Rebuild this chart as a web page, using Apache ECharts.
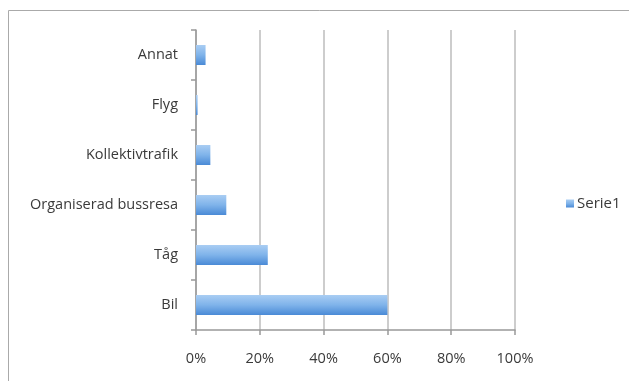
<!DOCTYPE html>
<html>
<head>
<meta charset="utf-8">
<script src="https://cdn.jsdelivr.net/npm/echarts@6/dist/echarts.min.js"></script>
<style>
    html, body { margin: 0; padding: 0; background: #fff; }
    #chart { width: 629px; height: 381px; }
</style>
</head>
<body>
<div id="chart"></div>
<script>
    // kategorier nerifrån och upp
    let categories = ['Bil', 'Tåg', 'Organiserad bussresa', 'Kollektivtrafik', 'Flyg', 'Annat'];
    let serie1 = [60, 22.5, 9.5, 4.5, 0.5, 3];
    let xTicks = [0, 20, 40, 60, 80, 100];

    let myChart = echarts.init(document.getElementById('chart'));

    let barColor = new echarts.graphic.LinearGradient(0, 0, 0, 1, [
        {offset: 0, color: '#a9cdf3'},
        {offset: 0.5, color: '#7fb3ea'},
        {offset: 1, color: '#4a8ad6'}
    ]);

    let option = {
        backgroundColor: '#fff',
        animation: false,
        textStyle: {
            fontFamily: 'Open Sans',
            fontSize: 14.5,
            color: '#3a3a3a'
        },
        graphic: [{
            type: 'rect',
            shape: {x: 8.5, y: 10.5, width: 700, height: 500},
            style: {fill: 'none', stroke: '#aaaaaa', lineWidth: 1},
            silent: true
        }],
        grid: {
            left: 196,
            top: 30,
            width: 319,
            height: 300
        },
        legend: {
            left: 561,
            top: 191,
            itemWidth: 8,
            itemHeight: 8,
            itemGap: 3,
            icon: 'rect',
            textStyle: {fontSize: 15, color: '#3a3a3a', fontFamily: 'Open Sans', padding: [0, 0, 0, -2]},
            data: ['Serie1']
        },
        xAxis: {
            type: 'value',
            min: xTicks[0],
            max: xTicks[xTicks.length - 1],
            interval: 20,
            axisLine: {show: true, lineStyle: {color: '#999', width: 1.5}},
            axisTick: {show: true, length: 5, lineStyle: {color: '#999', width: 1.5}},
            axisLabel: {
                margin: 21,
                fontSize: 14.5,
                color: '#3a3a3a',
                formatter: (v)=> v + '%'
            },
            splitLine: {show: true, lineStyle: {color: '#bdbdbd', width: 1.5}}
        },
        yAxis: {
            type: 'category',
            data: categories,
            axisLine: {show: true, lineStyle: {color: '#999', width: 1.5}},
            axisTick: {show: true, length: 5, lineStyle: {color: '#999', width: 1.5}},
            axisLabel: {margin: 18, fontSize: 14.5, color: '#3a3a3a'}
        },
        series: [{
            name: 'Serie1',
            type: 'bar',
            data: serie1,
            barWidth: '40%',
            itemStyle: {color: barColor}
        }]
    };

    myChart.setOption(option);
</script>
</body>
</html>
